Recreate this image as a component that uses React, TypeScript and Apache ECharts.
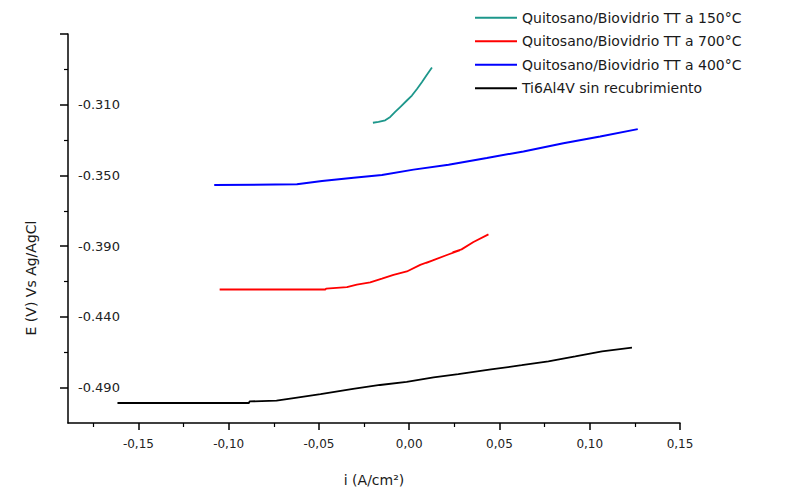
import React, { useEffect, useRef } from "react";
import * as echarts from "echarts";

// ---- data ----
const xMajorTicks = [-0.15, -0.1, -0.05, 0, 0.05, 0.1, 0.15];
const xMinorTicks = [-0.175, -0.125, -0.075, -0.025, 0.025, 0.075, 0.125];
const yMajorTicks = [-0.47, -0.43, -0.39, -0.35, -0.31, -0.27];
const yTickLabels = ["-0.490", "-0.440", "-0.390", "-0.350", "-0.310", ""];
const yMinorTicks = [-0.45, -0.41, -0.37, -0.33, -0.29];

const xAxisTitle = "i (A/cm²)";
const yAxisTitle = "E (V) Vs Ag/AgCl";

const seriesNames = [
  "Quitosano/Biovidrio TT a 150°C",
  "Quitosano/Biovidrio TT a 700°C",
  "Quitosano/Biovidrio TT a 400°C",
  "Ti6Al4V sin recubrimiento",
];
const seriesColors = ["#1d978b", "#ff0000", "#0000ff", "#000000"];

const teal150 = [
  [-0.0201, -0.3202], [-0.017, -0.3197], [-0.0133, -0.3188], [-0.0105, -0.3169],
  [-0.0078, -0.3141], [-0.005, -0.3113], [-0.0013, -0.3076], [0.0015, -0.3048],
  [0.0043, -0.3011], [0.007, -0.2973], [0.0098, -0.2931], [0.0126, -0.289],
];
const red700 = [
  [-0.105, -0.4145], [-0.0465, -0.4145], [-0.046, -0.414], [-0.0345, -0.4131],
  [-0.029, -0.4117], [-0.0216, -0.4105], [-0.0151, -0.4084], [-0.0087, -0.4062],
  [-0.0013, -0.4043], [0.0061, -0.4006], [0.0135, -0.3978], [0.0095, -0.3995],
  [0.0145, -0.3975], [0.0209, -0.395], [0.0282, -0.3922], [0.024, -0.3935],
  [0.029, -0.3918], [0.0356, -0.3876], [0.0439, -0.3833],
];
const blue400 = [
  [-0.108, -0.3554], [-0.0622, -0.355], [-0.0483, -0.3531], [-0.0308, -0.3513],
  [-0.0151, -0.3498], [0.0024, -0.3467], [0.0218, -0.3439], [0.043, -0.3401],
  [0.0633, -0.3364], [0.0854, -0.3318], [0.1058, -0.328], [0.1266, -0.3238],
];
const ti6al4v = [
  [-0.1616, -0.4787], [-0.0888, -0.4787], [-0.0884, -0.4778], [-0.0735, -0.4774],
  [-0.064, -0.4759], [-0.0491, -0.4737], [-0.0311, -0.4707], [-0.0162, -0.4685],
  [-0.0014, -0.4667], [0.0135, -0.4642], [0.0272, -0.4624], [0.0453, -0.4597],
  [0.0623, -0.4573], [0.0771, -0.4551], [0.092, -0.4523], [0.1068, -0.4495],
  [0.1234, -0.4474],
];
const seriesData = [teal150, red700, blue400, ti6al4v];

const X_MIN = -0.189;
const X_MAX = 0.15;
const Y_MIN = -0.49;
const Y_MAX = -0.27;

const FONT = "Liberation Sans, Arial, sans-serif";
const WIDE = "DejaVu Sans, sans-serif";

function fmtX(v: number): string {
  const s = Math.abs(v) < 1e-9 ? "0.00" : v.toFixed(2);
  return s.replace(".", ",");
}
function fmtY(v: number): string {
  for (let i = 0; i < yMajorTicks.length; i++) {
    if (Math.abs(v - yMajorTicks[i]) < 1e-6) return yTickLabels[i];
  }
  return "";
}

export default function App() {
  const ref = useRef<HTMLDivElement>(null);
  useEffect(() => {
    if (!ref.current) return;
    const chart = echarts.init(ref.current, null, { renderer: "svg" });
    const axisLine = { show: true, onZero: false, lineStyle: { color: "#000", width: 1.5 } };
    chart.setOption({
      animation: false,
      backgroundColor: "#ffffff",
      grid: { left: 68, right: 114, top: 34, bottom: 64, containLabel: false },
      legend: {
        orient: "vertical",
        left: 470,
        top: 1,
        icon: "rect",
        itemWidth: 42,
        itemHeight: 2,
        itemGap: 0,
        data: seriesNames,
        textStyle: { fontFamily: WIDE, fontSize: 14, color: "#1a1a1a", lineHeight: 23.5 },
      },
      graphic: [
        {
          type: "text",
          x: 31,
          y: 278,
          rotation: Math.PI / 2,
          style: {
            text: yAxisTitle,
            fontFamily: WIDE,
            fontSize: 14,
            fill: "#1a1a1a",
            align: "center",
            verticalAlign: "middle",
          },
        },
      ],
      xAxis: [
        {
          type: "value",
          position: "bottom",
          min: X_MIN,
          max: X_MAX,
          axisLine,
          splitLine: { show: false },
          axisTick: { show: true, inside: false, length: 7, customValues: xMajorTicks, lineStyle: { color: "#000", width: 1.5 } },
          axisLabel: {
            show: true,
            customValues: xMajorTicks,
            formatter: fmtX,
            margin: 15,
            fontFamily: WIDE,
            fontSize: 12,
            color: "#222",
          },
          name: xAxisTitle,
          nameLocation: "middle",
          nameGap: 50,
          nameTextStyle: { fontFamily: WIDE, fontSize: 14, color: "#1a1a1a" },
        },
        {
          type: "value",
          position: "bottom",
          min: X_MIN,
          max: X_MAX,
          axisLine: { show: false, onZero: false },
          splitLine: { show: false },
          axisTick: { show: true, inside: false, length: 4, customValues: xMinorTicks, lineStyle: { color: "#000", width: 1.2 } },
          axisLabel: { show: false },
        },
      ],
      yAxis: [
        {
          type: "value",
          position: "left",
          min: Y_MIN,
          max: Y_MAX,
          axisLine,
          splitLine: { show: false },
          axisTick: { show: true, inside: false, length: 8, customValues: yMajorTicks, lineStyle: { color: "#000", width: 1.5 } },
          axisLabel: {
            show: true,
            inside: true,
            customValues: yMajorTicks.slice(0, 5),
            formatter: fmtY,
            margin: 10,
            fontFamily: WIDE,
            fontSize: 13,
            color: "#222",
          },
        },
        {
          type: "value",
          position: "left",
          min: Y_MIN,
          max: Y_MAX,
          axisLine: { show: false, onZero: false },
          splitLine: { show: false },
          axisTick: { show: true, inside: false, length: 4, customValues: yMinorTicks, lineStyle: { color: "#000", width: 1.2 } },
          axisLabel: { show: false },
        },
      ],
      series: seriesNames.map((name, i) => ({
        name,
        type: "line",
        xAxisIndex: 0,
        yAxisIndex: 0,
        data: seriesData[i],
        symbol: "none",
        showSymbol: false,
        clip: true,
        lineStyle: { color: seriesColors[i], width: i === 2 ? 2 : 1.8 },
        itemStyle: { color: seriesColors[i] },
      })),
    });
    return () => chart.dispose();
  }, []);
  return (
    <div
      ref={ref}
      style={{ position: "fixed", left: 0, top: 0, width: 794, height: 492, background: "#fff" }}
    />
  );
}
